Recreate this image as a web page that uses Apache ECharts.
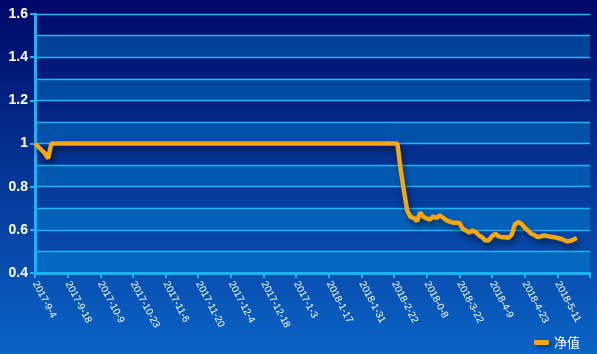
<!DOCTYPE html>
<html>
<head>
<meta charset="utf-8">
<script src="https://cdn.jsdelivr.net/npm/echarts@6/dist/echarts.min.js"></script>
<style>
  html, body { margin: 0; padding: 0; }
  #chart { width: 597px; height: 354px; }
</style>
</head>
<body>
<div id="chart"></div>
<script>
// labels shown every 10 trading days (typos kept as in the source)
const tickLabels = ['2017-9-4', '2017-9-18', '2017-10-9', '2017-10-23', '2017-11-6', '2017-11-20',
  '2017-12-4', '2017-12-18', '2017-1-3', '2018-1-17', '2018-1-31', '2018-2-22', '2018-0-8',
  '2018-3-22', '2018-4-9', '2018-4-23', '2018-5-11'];
const categoryCount = 171;
const seriesName = '净值';
const navValues = [
  1.0, 0.985, 0.97, 0.955, 0.93, 1.0,
  1, 1, 1, 1, 1, 1, 1, 1, 1, 1,
  1, 1, 1, 1, 1, 1, 1, 1, 1, 1,
  1, 1, 1, 1, 1, 1, 1, 1, 1, 1,
  1, 1, 1, 1, 1, 1, 1, 1, 1, 1,
  1, 1, 1, 1, 1, 1, 1, 1, 1, 1,
  1, 1, 1, 1, 1, 1, 1, 1, 1, 1,
  1, 1, 1, 1, 1, 1, 1, 1, 1, 1,
  1, 1, 1, 1, 1, 1, 1, 1, 1, 1,
  1, 1, 1, 1, 1, 1, 1, 1, 1, 1,
  1, 1, 1, 1, 1, 1, 1, 1, 1, 1,
  1, 1, 1, 1, 1, 1,
  0.88, 0.78, 0.69, 0.66, 0.655, 0.64, 0.68, 0.66, 0.652, 0.648,
  0.662, 0.655, 0.667, 0.656, 0.645, 0.638, 0.633, 0.633, 0.632, 0.605,
  0.597, 0.587, 0.597, 0.589, 0.574, 0.565, 0.55, 0.552, 0.57, 0.582,
  0.57, 0.566, 0.566, 0.563, 0.577, 0.625, 0.636, 0.628, 0.61, 0.597,
  0.582, 0.576, 0.566, 0.57, 0.574, 0.571, 0.568, 0.566, 0.562, 0.559,
  0.553, 0.546, 0.549, 0.555, 0.562
];

const categories = [];
for (let i = 0; i < categoryCount; i++) {
  categories.push(i % 10 === 0 && tickLabels[i / 10] ? tickLabels[i / 10] : '');
}

const cyan = '#1ab4f0';
const chart = echarts.init(document.getElementById('chart'));
chart.setOption({
  backgroundColor: new echarts.graphic.LinearGradient(0, 0, 0, 1, [
    { offset: 0, color: '#000868' },
    { offset: 1, color: '#0a64c6' }
  ]),
  animation: false,
  grid: { left: 35, right: 7, top: 14, bottom: 81 },
  legend: {
    data: [{ name: seriesName, itemStyle: { color: '#f3a712', shadowColor: 'rgba(0,0,0,0.5)', shadowBlur: 4, shadowOffsetX: 2, shadowOffsetY: 2 } }],
    icon: 'roundRect',
    itemWidth: 15,
    itemHeight: 5,
    right: 12,
    top: 331,
    textStyle: { color: '#fff', fontSize: 13, fontFamily: '"Noto Sans CJK SC"' }
  },
  xAxis: {
    type: 'category',
    data: categories,
    boundaryGap: false,
    axisLine: { lineStyle: { color: cyan, width: 3 } },
    axisTick: { interval: 9, length: 5, lineStyle: { color: cyan, width: 2 } },
    axisLabel: {
      interval: 9,
      rotate: -62,
      color: '#fff',
      fontSize: 10,
      fontFamily: 'Arial, "Liberation Sans"',
      margin: 9
    },
    splitLine: { show: false }
  },
  yAxis: [
    {
      type: 'value',
      min: 0.4,
      max: 1.6,
      interval: 0.2,
      axisLine: { show: true, lineStyle: { color: cyan, width: 3 } },
      axisTick: { show: true, length: 5, lineStyle: { color: cyan, width: 2 } },
      axisLabel: {
        color: '#fff',
        fontSize: 14,
        fontWeight: 'bold',
        fontFamily: 'Arial, "Liberation Sans"',
        margin: 7
      },
      splitLine: { show: false }
    },
    {
      type: 'value',
      min: 0.4,
      max: 1.6,
      interval: 0.1,
      position: 'left',
      axisLine: { show: false },
      axisTick: { show: false },
      axisLabel: { show: false },
      splitLine: { show: true, lineStyle: { color: '#22b6f2', width: 1.3 } },
      splitArea: { show: true, areaStyle: { color: ['rgba(0,160,230,0.33)', 'rgba(0,0,0,0)'] } }
    }
  ],
  series: [{
    name: seriesName,
    type: 'line',
    yAxisIndex: 0,
    data: navValues,
    showSymbol: false,
    symbol: 'none',
    itemStyle: { color: '#f3a712' },
    lineStyle: {
      color: '#f3a712',
      width: 4.5,
      shadowColor: 'rgba(0,0,0,0.55)',
      shadowBlur: 6,
      shadowOffsetX: 2,
      shadowOffsetY: 4
    }
  }]
});
</script>
</body>
</html>
